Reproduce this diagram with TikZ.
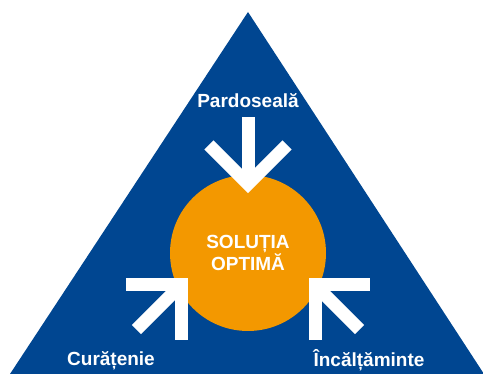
\documentclass[tikz,border=0pt]{standalone}
\usepackage{fontspec}
\setmainfont{Liberation Sans}
\usetikzlibrary{calc}
\definecolor{triblue}{RGB}{0,70,145}
\definecolor{solorange}{RGB}{243,152,0}
\newcommand\DrawPointer[3]{% corner, direction, shaft length
  \begin{scope}[shift={#1},rotate=#2]
    \draw[pointer] (-39,39) -- (0,0) -- (-39,-39); % head
    \draw[pointer] (0,0) -- (-#3,0); % shaft
  \end{scope}
}
\tikzset{%
  x=1pt, y=1pt,
  inner sep=0pt,%
  outer sep=2pt,%
  pointer/.style={draw=white,line width=13pt,line join=miter,line cap=butt},%
  label text/.style={text=white,font=\fontsize{19}{22}\selectfont\bfseries,anchor=base}%
}
\begin{document}
\begin{tikzpicture}
    \useasboundingbox (0,0) rectangle (483,374);
    \clip (0,0) rectangle (483,374);

    \def\R{78} % radius of the circle
    \coordinate (A) at (248,362); % apex
    \coordinate (L) at (10,0);
    \coordinate (Rb) at (484,0);
    \fill[triblue] (A) -- (L) -- (Rb) -- cycle;

    \node[circle,fill=solorange,minimum size=2*\R,outer sep=0pt,align=center,
          text=white,font=\fontsize{19}{22}\selectfont\bfseries] (solutie) at (248,121)
          {SOLUȚIA\\OPTIMĂ};

    \DrawPointer{(248,190)}{-90}{67} % from above
    \DrawPointer{(181,89)}{45}{63} % from the left
    \DrawPointer{(315,89)}{135}{63} % from the right

    \node[label text] (pardoseala) at (248,266) {Pardoseală};
    \node[label text] (curatenie) at (111,8) {Curățenie};
    \node[label text] (incaltaminte) at (369,7) {Încălțăminte};

\end{tikzpicture}
\end{document}
